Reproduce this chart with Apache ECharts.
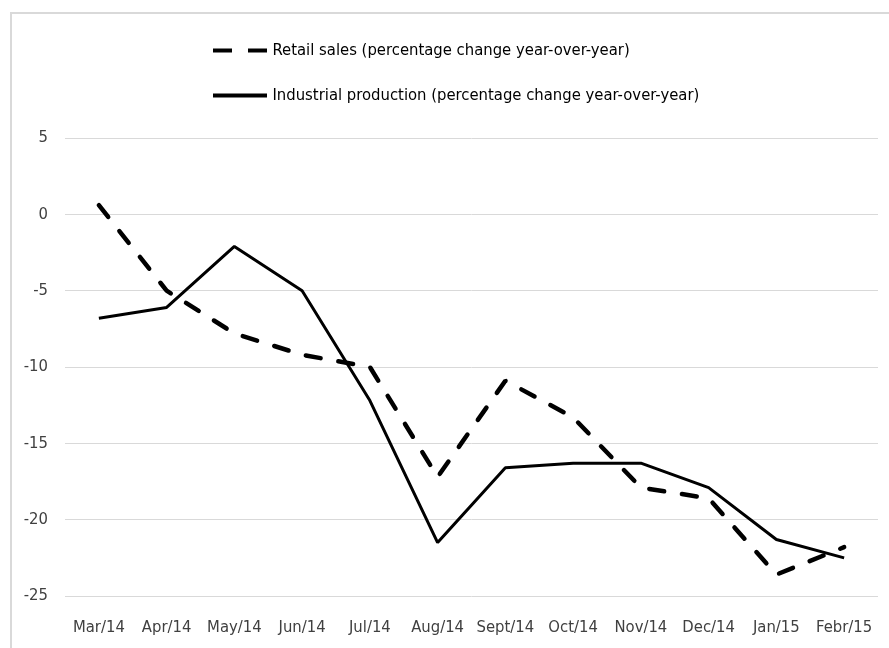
<!DOCTYPE html>
<html>
<head>
<meta charset="utf-8">
<script src="https://cdn.jsdelivr.net/npm/echarts@6/dist/echarts.min.js"></script>
<style>
  html, body { margin: 0; padding: 0; background: #fff; }
  #chart { width: 889px; height: 648px; }
</style>
</head>
<body>
<div id="chart"></div>
<script>
// months on the x axis
var months = ['Mar/14', 'Apr/14', 'May/14', 'Jun/14', 'Jul/14', 'Aug/14', 'Sept/14', 'Oct/14', 'Nov/14', 'Dec/14', 'Jan/15', 'Febr/15'];
// values
var retail = [0.6, -5.0, -7.8, -9.2, -10.0, -17.2, -10.9, -13.3, -17.9, -18.6, -23.6, -21.8];
var industrial = [-6.8, -6.1, -2.1, -5.0, -12.2, -21.5, -16.6, -16.3, -16.3, -17.9, -21.3, -22.5];
var yTicks = { min: -25, max: 5, step: 5 };

var font = '"DejaVu Sans Condensed", "Liberation Sans", sans-serif';
var chart = echarts.init(document.getElementById('chart'));

chart.setOption({
  animation: false,
  textStyle: { fontFamily: font },
  graphic: [{
    type: 'rect',
    shape: { x: 11, y: 13, width: 900, height: 700 },
    style: { fill: 'none', stroke: '#d9d9d9', lineWidth: 2 },
    silent: true
  }],
  legend: {
    orient: 'vertical',
    left: 208,
    top: 37,
    itemWidth: 55,
    itemHeight: 4,
    itemGap: 28,
    textStyle: { fontSize: 16.5, color: '#000', fontFamily: font },
    data: [
      { name: 'Retail sales (percentage change year-over-year)', icon: 'path://M0,0H19V4H0Z M35,0H54V4H35Z' },
      { name: 'Industrial production (percentage change year-over-year)', icon: 'path://M0,0H54V4H0Z' }
    ]
  },
  grid: { left: 65, right: 11, top: 138, bottom: 52 },
  xAxis: {
    type: 'category',
    data: months,
    boundaryGap: true,
    axisLine: { show: false },
    axisTick: { show: false },
    axisLabel: { fontSize: 16.5, color: '#404040', margin: 23, interval: 0, fontFamily: font }
  },
  yAxis: {
    type: 'value',
    min: yTicks.min,
    max: yTicks.max,
    interval: yTicks.step,
    axisLine: { show: false },
    axisTick: { show: false },
    splitLine: { lineStyle: { color: '#d9d9d9', width: 1 } },
    axisLabel: { fontSize: 16.5, color: '#404040', margin: 17, fontFamily: font }
  },
  series: [{
    name: 'Retail sales (percentage change year-over-year)',
    type: 'line',
    data: retail,
    symbol: 'none',
    lineStyle: { color: '#000', width: 4.5, type: [15, 18], cap: 'round' },
    itemStyle: { color: '#000' }
  }, {
    name: 'Industrial production (percentage change year-over-year)',
    type: 'line',
    data: industrial,
    symbol: 'none',
    lineStyle: { color: '#000', width: 3 },
    itemStyle: { color: '#000' }
  }]
});
</script>
</body>
</html>
